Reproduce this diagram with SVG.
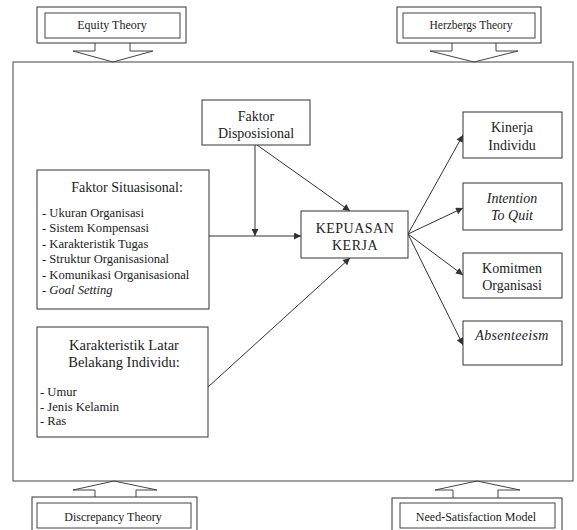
<svg xmlns="http://www.w3.org/2000/svg" width="577" height="530" viewBox="0 0 577 530">
<defs>
<style>
.bx{fill:#fff;stroke:#333;stroke-width:1}
.tb{fill:none;stroke:#444;stroke-width:1}
.ln{fill:none;stroke:#333;stroke-width:1}
.t{font-family:"Liberation Serif","Times New Roman",serif;fill:#222}
.c{text-anchor:middle}
.h{font-size:14px}
.s{font-size:12px}
.it{font-size:12.6px}
.i{font-style:italic}
</style>
<marker id="ah" viewBox="0 0 10 10" refX="10" refY="5" markerWidth="8" markerHeight="7" markerUnits="userSpaceOnUse" orient="auto">
<path d="M0,0 L10,5 L0,10 z" fill="#333"/>
</marker>
</defs>
<rect width="577" height="530" fill="#fff"/>

<g id="frame">
<rect x="13" y="62" width="560" height="419" class="tb"/>
</g>

<g id="equity">
<rect x="37" y="7" width="149" height="36" class="bx"/>
<rect x="45" y="13" width="135" height="25" class="tb"/>
<path d="M95,43 V51 H73 L113,62 L153,51 H130 V43" class="tb" fill="#fff"/>
<text x="112" y="29" class="t c s">Equity Theory</text>
</g>

<g id="herzberg">
<rect x="397" y="7" width="144" height="36" class="bx"/>
<rect x="403" y="13" width="132" height="25" class="tb"/>
<path d="M452,43 V51 H430 L474,62 L518,51 H496 V43" class="tb" fill="#fff"/>
<text x="471" y="29" class="t c" font-size="11.5">Herzbergs Theory</text>
</g>

<g id="discrepancy">
<rect x="32" y="497" width="165" height="40" class="bx"/>
<rect x="37" y="503" width="154" height="25" class="tb"/>
<path d="M95,497 V490 H73 L114,481 L157,490 H136 V497" class="tb" fill="#fff"/>
<text x="113" y="521" class="t c s">Discrepancy Theory</text>
</g>

<g id="needsat">
<rect x="392" y="498" width="170" height="40" class="bx"/>
<rect x="400" y="503" width="155" height="25" class="tb"/>
<path d="M453,498 V490 H435 L477,481 L520,490 H498 V498" class="tb" fill="#fff"/>
<text x="476" y="521" class="t c s">Need-Satisfaction Model</text>
</g>

<g id="connectors">
<line x1="255" y1="145" x2="255" y2="236" class="ln" marker-end="url(#ah)"/>
<line x1="257" y1="145" x2="350" y2="211" class="ln" marker-end="url(#ah)"/>
<line x1="209" y1="236" x2="301" y2="236" class="ln" marker-end="url(#ah)"/>
<line x1="208" y1="387" x2="350" y2="258" class="ln" marker-end="url(#ah)"/>
<line x1="408" y1="234" x2="463" y2="135" class="ln" marker-end="url(#ah)"/>
<line x1="408" y1="234" x2="463" y2="208" class="ln" marker-end="url(#ah)"/>
<line x1="408" y1="234" x2="463" y2="275" class="ln" marker-end="url(#ah)"/>
<line x1="408" y1="234" x2="463" y2="345" class="ln" marker-end="url(#ah)"/>
</g>

<g id="disposisional">
<rect x="202" y="100" width="108" height="45" class="bx"/>
<text x="256" y="121" class="t c h">Faktor</text>
<text x="256" y="138" class="t c h">Disposisional</text>
</g>

<g id="situasional">
<rect x="37" y="170" width="172" height="139" class="bx"/>
<text x="127" y="192" class="t c h">Faktor Situasisonal:</text>
<text x="42" y="216.5" class="t it">- Ukuran Organisasi</text>
<text x="42" y="232" class="t it">- Sistem Kompensasi</text>
<text x="42" y="247.5" class="t it">- Karakteristik Tugas</text>
<text x="42" y="263" class="t it">- Struktur Organisasional</text>
<text x="42" y="278.5" class="t it">- Komunikasi Organisasional</text>
<text x="42" y="294" class="t it">- <tspan class="i">Goal Setting</tspan></text>
</g>

<g id="latar">
<rect x="37" y="327" width="171" height="110" class="bx"/>
<text x="124" y="350" class="t c" font-size="14.5">Karakteristik Latar</text>
<text x="124" y="367" class="t c" font-size="14.5">Belakang Individu:</text>
<text x="40" y="395.5" class="t it">- Umur</text>
<text x="40" y="410.5" class="t it">- Jenis Kelamin</text>
<text x="40" y="424.5" class="t it">- Ras</text>
</g>

<g id="kepuasan">
<rect x="301" y="211" width="107" height="47" class="bx"/>
<text x="355" y="233" class="t c h" letter-spacing="0.5">KEPUASAN</text>
<text x="355" y="250" class="t c h" letter-spacing="0.5">KERJA</text>
</g>

<g id="kinerja">
<rect x="463" y="112" width="99" height="46" class="bx"/>
<text x="512" y="132" class="t c h">Kinerja</text>
<text x="512" y="150" class="t c h">Individu</text>
</g>

<g id="intention">
<rect x="463" y="183" width="99" height="47" class="bx"/>
<text x="512" y="203" class="t c h i">Intention</text>
<text x="512" y="220" class="t c h i">To Quit</text>
</g>

<g id="komitmen">
<rect x="463" y="253" width="99" height="45" class="bx"/>
<text x="512" y="273" class="t c h">Komitmen</text>
<text x="512" y="290" class="t c h">Organisasi</text>
</g>

<g id="absenteeism">
<rect x="463" y="321" width="99" height="44" class="bx"/>
<text x="512" y="340" class="t c h i" letter-spacing="0.3">Absenteeism</text>
</g>
</svg>
